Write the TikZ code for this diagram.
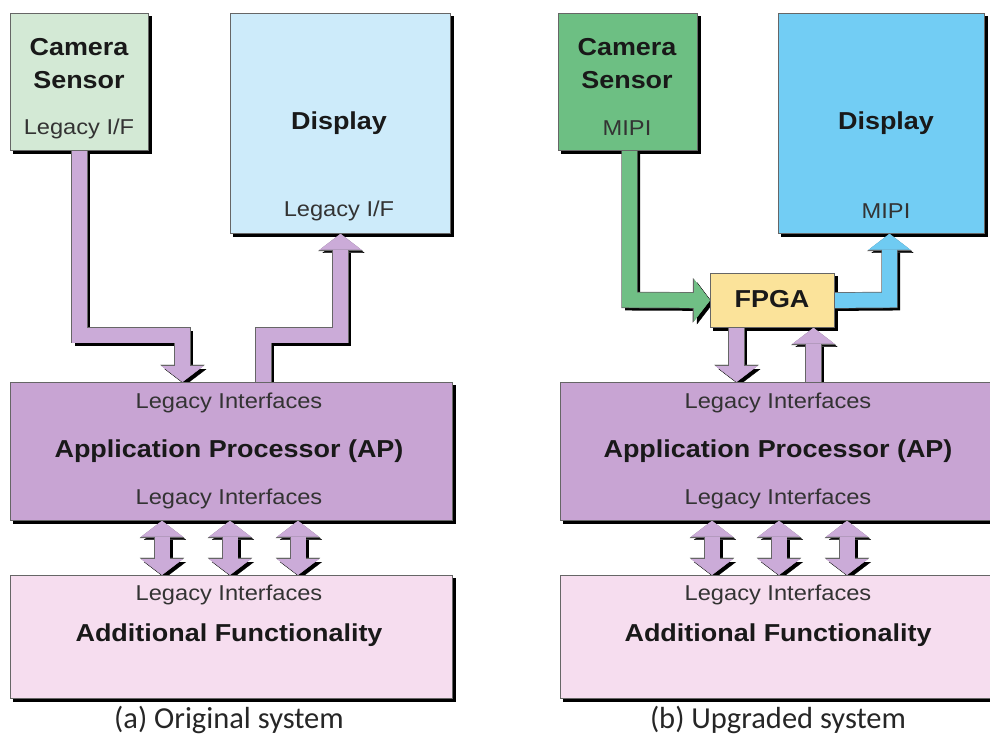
\documentclass[tikz,border=0pt]{standalone}
\usepackage{fontspec}
\newfontfamily\lsans[FakeStretch=1.1]{Liberation Sans}
\newfontfamily\capfont{Carlito}
\usetikzlibrary{arrows.meta,calc}
\pgfdeclarelayer{bg}
\pgfdeclarelayer{sh}
\pgfsetlayers{sh,bg,main}
\definecolor{camLc}{HTML}{D3E9D5}
\definecolor{dispLc}{HTML}{CDEBFA}
\definecolor{camRc}{HTML}{6DBF83}
\definecolor{dispRc}{HTML}{72CDF4}
\definecolor{fpgac}{HTML}{FBE39A}
\definecolor{apc}{HTML}{C8A4D3}
\definecolor{adc}{HTML}{F6DDEF}
\definecolor{arrP}{HTML}{CBABD8}
\definecolor{arrG}{HTML}{70BF85}
\definecolor{arrB}{HTML}{6FCBF2}
\tikzset{
  Hd/.tip={Triangle[length=16pt,width=42pt,line width=0.3pt]},
  Ho/.tip={Triangle[length=17.2pt,width=44.6pt,line width=0.3pt]}
}
\newcommand\fatarrow[4]{%
  \draw[line width=15pt, draw=black, #2, transform canvas={xshift=3pt,yshift=-3pt}] #4;
  \draw[line width=16.4pt, draw=black!60, #3] #4;
  \draw[line width=15pt, draw=#1, #2] #4;}
\newcommand\boxshadow[1]{%
  \begin{pgfonlayer}{sh}
  \fill[black] ($(#1.north west)+(3,3)$) rectangle ($(#1.south east)+(3,3)$);
  \end{pgfonlayer}}
\begin{document}
\begin{tikzpicture}[x=1pt,y=-1pt,
  box/.style={draw=black!60, line width=0.8pt, inner sep=0pt, anchor=north west},
  bl/.style={font=\lsans\bfseries\fontsize{24.5}{26}\selectfont, text=black!90, inner sep=0pt},
  rg/.style={font=\lsans\fontsize{21.5}{24}\selectfont, text=black!80, inner sep=0pt},
  captxt/.style={font=\capfont\fontsize{30.5}{33}\selectfont, text=black!85, inner sep=0pt}]
\useasboundingbox (0,0) rectangle (990,738);
\clip (0,0) rectangle (990,738);
% ---------- left panel boxes ----------
\node[box, fill=camLc, minimum width=138pt, minimum height=137pt] (camL) at (10,13) {};
\node[box, fill=dispLc, minimum width=220pt, minimum height=220pt] (dispL) at (230,13) {};
\node[box, fill=apc, minimum width=442pt, minimum height=138pt] (apL) at (10,382) {};
\node[box, fill=adc, minimum width=442pt, minimum height=123pt] (adL) at (10,575) {};
% ---------- right panel boxes ----------
\node[box, fill=camRc, minimum width=139pt, minimum height=137pt] (camR) at (558,13) {};
\node[box, fill=dispRc, minimum width=206pt, minimum height=220pt] (dispR) at (778,13) {};
\node[box, fill=fpgac, minimum width=124pt, minimum height=54pt] (fpga) at (710,273) {};
\node[box, fill=apc, minimum width=445pt, minimum height=138pt] (apR) at (560,382) {};
\node[box, fill=adc, minimum width=445pt, minimum height=123pt] (adR) at (560,575) {};
\boxshadow{camL}\boxshadow{dispL}\boxshadow{apL}\boxshadow{adL}
\boxshadow{camR}\boxshadow{dispR}\boxshadow{fpga}\boxshadow{apR}\boxshadow{adR}
% ---------- texts left ----------
\node[bl] (tCamL1) at (79,47) {Camera};
\node[bl] (tCamL2) at (79,80) {Sensor};
\node[rg] (tCamL3) at (79,129) {Legacy I/F};
\node[bl] (tDispL1) at (339,123) {Display};
\node[rg] (tDispL2) at (339,211) {Legacy I/F};
\node[rg] (tApL1) at (229,403) {Legacy Interfaces};
\node[bl] (tApL2) at (229,451) {Application Processor (AP)};
\node[rg] (tApL3) at (229,499) {Legacy Interfaces};
\node[rg] (tAdL1) at (229,595) {Legacy Interfaces};
\node[bl] (tAdL2) at (229,635) {Additional Functionality};
\node[captxt] (capL) at (229,720) {(a) Original system};
% ---------- texts right ----------
\node[bl] (tCamR1) at (627,47) {Camera};
\node[bl] (tCamR2) at (627,80) {Sensor};
\node[rg] (tCamR3) at (627,128) {MIPI};
\node[bl] (tDispR1) at (886,123) {Display};
\node[rg] (tDispR2) at (886,211) {MIPI};
\node[bl] (tFpga) at (772,299) {FPGA};
\node[rg] (tApR1) at (778,403) {Legacy Interfaces};
\node[bl] (tApR2) at (778,451) {Application Processor (AP)};
\node[rg] (tApR3) at (778,499) {Legacy Interfaces};
\node[rg] (tAdR1) at (778,595) {Legacy Interfaces};
\node[bl] (tAdR2) at (778,635) {Additional Functionality};
\node[captxt] (capR) at (778,720) {(b) Upgraded system};
% ---------- helper coordinates ----------
\coordinate (kA) at (182.5,335);
\coordinate (kB) at (263.5,335);
\coordinate (kC) at (340.5,335);
\coordinate (kG) at (629.5,300);
\coordinate (kH) at (889.5,300);
\coordinate (kD) at (736.5,0);
\coordinate (kU) at (813.5,0);
\coordinate (dL1) at (162,0);
\coordinate (dL2) at (230,0);
\coordinate (dL3) at (298,0);
\coordinate (dR1) at (712,0);
\coordinate (dR2) at (779,0);
\coordinate (dR3) at (847,0);
% ---------- arrows (behind boxes) ----------
\begin{pgfonlayer}{bg}
\fatarrow{arrP}{-Hd}{-Ho}{(camL.south) |- (kA) -- (apL.north -| kA)}
\fatarrow{arrP}{-Hd}{-Ho}{(apL.north -| kB) -- (kB) -- (kC) -- (dispL.south -| kC)}
\fatarrow{arrP}{Hd-Hd}{Ho-Ho}{(apL.south -| dL1) -- (adL.north -| dL1)}
\fatarrow{arrP}{Hd-Hd}{Ho-Ho}{(apL.south -| dL2) -- (adL.north -| dL2)}
\fatarrow{arrP}{Hd-Hd}{Ho-Ho}{(apL.south -| dL3) -- (adL.north -| dL3)}
\fatarrow{arrG}{-Hd}{-Ho}{(camR.south -| kG) -- (kG) -- (fpga.west)}
\fatarrow{arrB}{-Hd}{-Ho}{(fpga.east) -- (kH) -- (dispR.south -| kH)}
\fatarrow{arrP}{-Hd}{-Ho}{(fpga.south -| kD) -- (apR.north -| kD)}
\fatarrow{arrP}{-Hd}{-Ho}{(apR.north -| kU) -- (fpga.south -| kU)}
\fatarrow{arrP}{Hd-Hd}{Ho-Ho}{(apR.south -| dR1) -- (adR.north -| dR1)}
\fatarrow{arrP}{Hd-Hd}{Ho-Ho}{(apR.south -| dR2) -- (adR.north -| dR2)}
\fatarrow{arrP}{Hd-Hd}{Ho-Ho}{(apR.south -| dR3) -- (adR.north -| dR3)}
\end{pgfonlayer}
\end{tikzpicture}
\end{document}
